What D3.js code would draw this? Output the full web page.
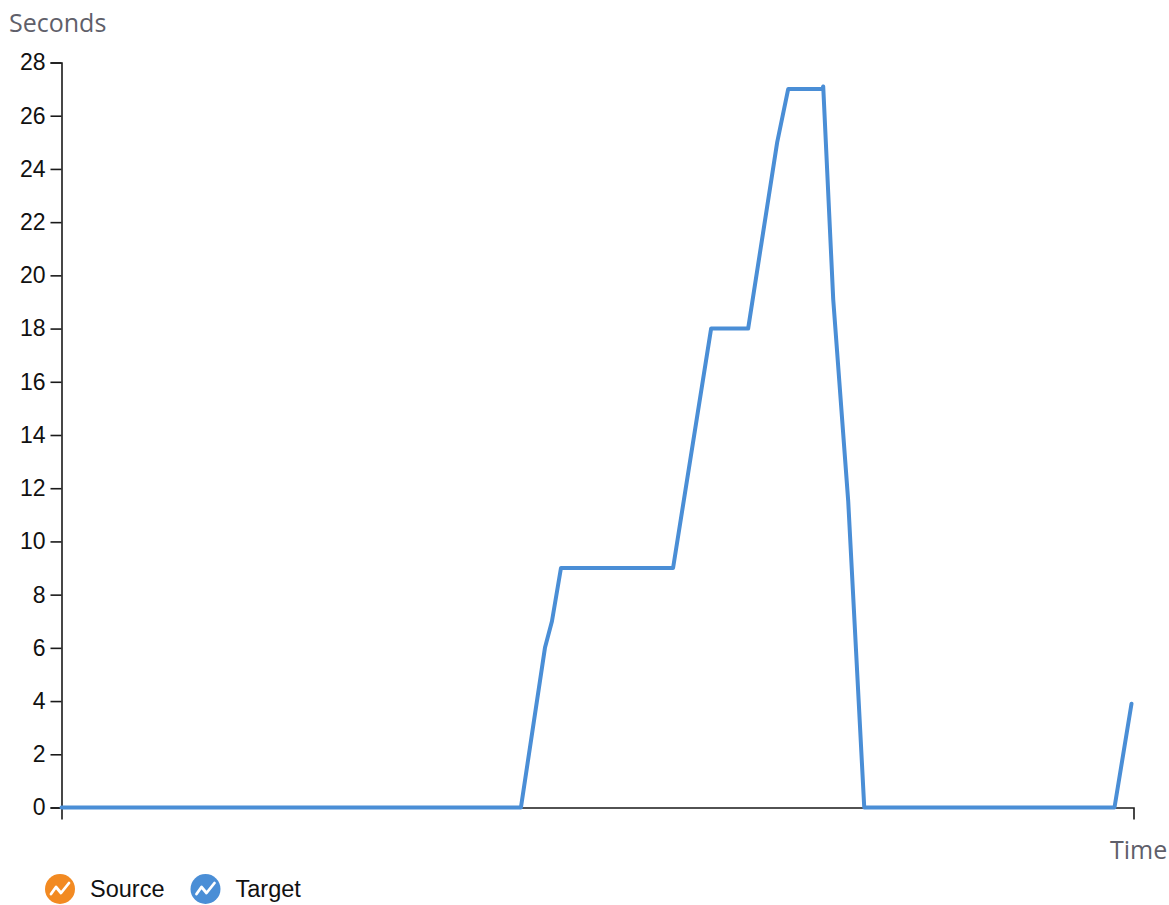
<!DOCTYPE html>
<html>
<head>
<meta charset="utf-8">
<script src="https://cdn.jsdelivr.net/npm/d3@7"></script>
<style>
  body { margin: 0; background: #fff; }
  .axis path, .axis line { stroke: #1a1a1a; stroke-width: 1.6; }
  .axis text { font-family: "Liberation Sans", Arial, sans-serif; font-size: 23px; fill: #111; }
  .title { font-family: "Open Sans", sans-serif; font-size: 25px; fill: #5f5f6a; }
  .legend text { font-family: "Liberation Sans", Arial, sans-serif; font-size: 23.5px; fill: #111; }
</style>
</head>
<body>
<svg id="chart" width="1169" height="905"></svg>
<script>
// time offsets (seconds from start) and target delay (seconds)
const times = [0, 459, 483, 490, 499, 611, 649, 686, 715, 726, 760, 761, 771, 786, 802, 1052, 1069];
const targetValues = [0, 0, 6, 7, 9, 9, 18, 18, 25, 27, 27, 27.1, 19.1, 11.5, 0, 0, 3.9];
const yTicks = [0, 2, 4, 6, 8, 10, 12, 14, 16, 18, 20, 22, 24, 26, 28];
const seriesNames = ["Source", "Target"];
const seriesColors = ["#f28a22", "#4a8ed6"];

const data = times.map((t, i) => ({ t: t, v: targetValues[i] }));

const svg = d3.select("#chart");

const x = d3.scaleLinear().domain([0, 1071]).range([61.5, 1133.5]);
const y = d3.scaleLinear().domain([0, 28]).range([807.5, 62.5]);

// axes (x axis has no ticks, only the outer ends)
svg.append("g")
    .attr("class", "axis")
    .attr("transform", "translate(0,807.5)")
    .call(d3.axisBottom(x).tickValues([]).tickSizeOuter(12));

svg.append("g")
    .attr("class", "axis")
    .attr("transform", "translate(61.5,0)")
    .call(d3.axisLeft(y).tickValues(yTicks).tickSize(11).tickSizeOuter(11).tickPadding(5));

// axis titles
svg.append("text").attr("class", "title")
    .attr("x", 9).attr("y", 32).text("Seconds");
svg.append("text").attr("class", "title")
    .attr("x", 1110).attr("y", 859).text("Time");

// the line
const line = d3.line()
    .x(d => x(d.t))
    .y(d => y(d.v));

svg.append("path")
    .datum(data)
    .attr("fill", "none")
    .attr("stroke", seriesColors[1])
    .attr("stroke-width", 4)
    .attr("stroke-linejoin", "round")
    .attr("stroke-linecap", "round")
    .attr("d", line);

// legend
const legendX = [60, 205.5];
const legend = svg.append("g").attr("class", "legend");
seriesNames.forEach((name, i) => {
    const g = legend.append("g").attr("transform", `translate(${legendX[i]},889)`);
    g.append("circle").attr("r", 15).attr("fill", seriesColors[i]);
    g.append("path")
        .attr("d", "M-9,5L-4,-2L1,4L9,-6")
        .attr("fill", "none")
        .attr("stroke", "#fff")
        .attr("stroke-width", 2.8)
        .attr("stroke-linejoin", "round")
        .attr("stroke-linecap", "round");
    g.append("text").attr("x", 30).attr("y", 8).text(name);
});
</script>
</body>
</html>
